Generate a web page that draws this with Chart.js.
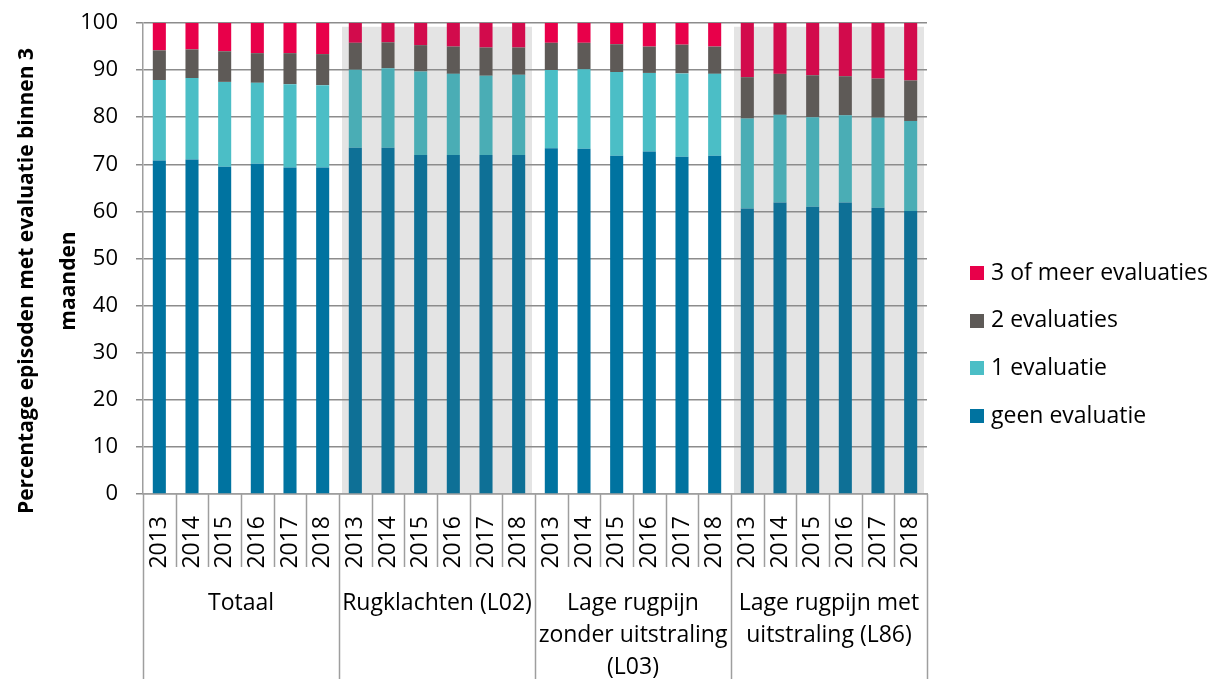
<!DOCTYPE html>
<html><head><meta charset="utf-8">
<script src="https://cdn.jsdelivr.net/npm/chart.js@4.4.1/dist/chart.umd.min.js"></script>
<style>html,body{margin:0;padding:0;background:#fff}#wrap{width:1214px;height:679px}</style>
</head><body><div id="wrap"><canvas id="c" width="1214" height="679"></canvas></div>
<script>
const groups = [["Totaal"], ["Rugklachten (L02)"], ["Lage rugpijn", "zonder uitstraling", "(L03)"], ["Lage rugpijn met", "uitstraling (L86)"]];
const years = ["2013", "2014", "2015", "2016", "2017", "2018"];
const shadedGroups = [1, 3];
const seriesNames = ["geen evaluatie", "1 evaluatie", "2 evaluaties", "3 of meer evaluaties"];
const geen = [70.8, 71.0, 69.5, 70.1, 69.3, 69.3, 73.5, 73.5, 72.0, 72.0, 72.0, 72.0, 73.4, 73.3, 71.8, 72.7, 71.6, 71.8, 60.6, 61.9, 61.0, 61.9, 60.8, 60.1];
const een = [17.1, 17.3, 18.0, 17.2, 17.7, 17.5, 16.6, 16.9, 17.7, 17.2, 16.8, 17.0, 16.6, 16.9, 17.8, 16.7, 17.7, 17.4, 19.1, 18.6, 19.0, 18.5, 19.1, 19.1];
const twee = [6.3, 6.1, 6.5, 6.3, 6.6, 6.6, 5.7, 5.5, 5.6, 5.8, 6.0, 5.8, 5.8, 5.6, 5.9, 5.6, 6.1, 5.8, 8.8, 8.7, 8.9, 8.3, 8.3, 8.6];
const drie = [5.8, 5.6, 6.0, 6.4, 6.4, 6.6, 4.2, 4.1, 4.7, 5.0, 5.2, 5.2, 4.2, 4.2, 4.5, 5.0, 4.6, 5.0, 11.5, 10.8, 11.1, 11.3, 11.8, 12.2];
const yTicks = [0, 10, 20, 30, 40, 50, 60, 70, 80, 90, 100];
const yTitle = ["Percentage episoden met evaluatie binnen 3", "maanden"];

const normalColors = ["#0073a0", "#4bbec6", "#5e5a57", "#e8004a"];
const shadedColors = ["#0e7096", "#4aadb5", "#5e5a57", "#d20b4c"];
const FONT = "'Open Sans', sans-serif";
const GRID = "#8c8c8c";
const SEP = "#9e9e9e";

const labels = [];
groups.forEach(() => years.forEach(y => labels.push(y)));
const nPer = years.length;

function colorFor(si) {
  return (ctx) => {
    if (ctx.type === 'data') {
      const g = Math.floor(ctx.dataIndex / nPer);
      return shadedGroups.includes(g) ? shadedColors[si] : normalColors[si];
    }
    return normalColors[si];
  };
}

const seriesData = [geen, een, twee, drie];
const datasets = seriesData.map((d, i) => ({
  label: seriesNames[i],
  data: d,
  backgroundColor: colorFor(i),
  borderWidth: 0,
  barPercentage: 0.4,
  categoryPercentage: 1.0,
  stack: 's'
}));

const bandsPlugin = {
  id: 'bands',
  beforeDraw(chart) {
    const x = chart.scales.x, y = chart.scales.y, ctx = chart.ctx;
    const w = (x.right - x.left) / labels.length;
    ctx.save();
    ctx.fillStyle = "#e4e4e4";
    shadedGroups.forEach(g => {
      const l = x.left + g * nPer * w + 3;
      const r = x.left + (g + 1) * nPer * w - 3;
      const t = y.getPixelForValue(99.2);
      ctx.fillRect(l, t, r - l, y.bottom - t);
    });
    ctx.restore();
  },
  afterDraw(chart) {
    const x = chart.scales.x, ctx = chart.ctx;
    const w = (x.right - x.left) / labels.length;
    const top = x.top;
    ctx.save();
    ctx.strokeStyle = SEP;
    ctx.lineWidth = 1.5;
    for (let i = 0; i <= labels.length; i++) {
      const px = Math.round(x.left + i * w) + 0.5;
      ctx.beginPath();
      ctx.moveTo(px, top);
      ctx.lineTo(px, i % nPer === 0 ? chart.height : top + 73);
      ctx.stroke();
    }
    ctx.fillStyle = "#000";
    ctx.font = "23px " + FONT;
    ctx.textAlign = "center";
    ctx.textBaseline = "middle";
    groups.forEach((lines, g) => {
      const cx = x.left + (g + 0.5) * nPer * w;
      lines.forEach((t, k) => ctx.fillText(t, cx, 603 + k * 32));
    });
    // legend (top item = last series)
    ctx.textAlign = "left";
    for (let k = 0; k < seriesNames.length; k++) {
      const si = seriesNames.length - 1 - k;
      const cy = 273 + k * 47.7;
      ctx.fillStyle = normalColors[si];
      ctx.fillRect(970, Math.round(cy - 7), 14, 14);
      ctx.fillStyle = "#000";
      ctx.fillText(seriesNames[si], 991, cy);
    }
    // y title
    ctx.textAlign = "center";
    ctx.font = "bold 21px " + FONT;
    ctx.translate(0, 281);
    ctx.rotate(-Math.PI / 2);
    ctx.fillText(yTitle[0], 0, 27);
    ctx.fillText(yTitle[1], 0, 69);
    ctx.restore();
  }
};

Chart.defaults.font.family = FONT;
Chart.defaults.font.size = 23;
Chart.defaults.color = "#000";

new Chart(document.getElementById('c'), {
  type: 'bar',
  data: { labels, datasets },
  plugins: [bandsPlugin],
  options: {
    responsive: false,
    animation: false,
    devicePixelRatio: 1,
    layout: { padding: { top: 23, left: 0, right: 287, bottom: 0 } },
    plugins: {
      legend: { display: false },
      tooltip: { enabled: false }
    },
    scales: {
      x: {
        stacked: true,
        grid: { display: false },
        border: { display: true, color: SEP, width: 1.5 },
        ticks: { autoSkip: false, maxRotation: 90, minRotation: 90, padding: 14, color: "#000", font: { size: 23 } },
        afterFit(s) { s.height = 185; s.paddingLeft = 0; s.paddingRight = 0; }
      },
      y: {
        stacked: true,
        min: 0, max: 100,
        afterBuildTicks(s) { s.ticks = yTicks.map(v => ({ value: v })); },
        grid: { color: GRID, lineWidth: 1.5, tickLength: 7 },
        border: { display: true, color: SEP, width: 1.5 },
        ticks: { padding: 18, color: "#000", font: { size: 22 } },
        afterFit(s) { s.width = 143; s.paddingTop = 0; s.paddingBottom = 0; }
      }
    }
  }
});
</script>
</body></html>
